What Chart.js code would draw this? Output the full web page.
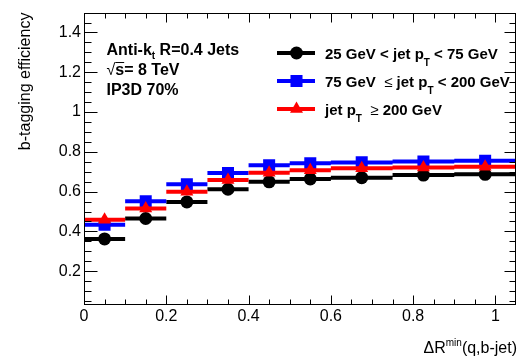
<!DOCTYPE html>
<html>
<head>
<meta charset="utf-8">
<script src="https://cdn.jsdelivr.net/npm/chart.js@4/dist/chart.umd.min.js"></script>
<style>
  html, body { margin: 0; padding: 0; background: #fff; }
  canvas { display: block; }
</style>
</head>
<body>
<canvas id="my-chart" width="521" height="361"></canvas>
<script>
'use strict';

// ******* DATA *********
let binEdges = [0, 0.1, 0.2, 0.3, 0.4, 0.5, 0.6, 0.75, 0.9, 1.05];
let effLowPt = [0.362, 0.465, 0.548, 0.612, 0.649, 0.664, 0.670, 0.683, 0.687];
let effMidPt = [0.433, 0.552, 0.637, 0.693, 0.733, 0.743, 0.747, 0.751, 0.755];
let effHighPt = [0.458, 0.515, 0.599, 0.659, 0.695, 0.708, 0.717, 0.721, 0.725];

let seriesNames = ['25 GeV < jet p_{T} < 75 GeV', '75 GeV ≤ jet p_{T} < 200 GeV', 'jet p_{T} ≥ 200 GeV'];
let xTicks = [0, 0.2, 0.4, 0.6, 0.8, 1];
let yTicks = [0.2, 0.4, 0.6, 0.8, 1, 1.2, 1.4];
let infoLines = ['Anti-k_{t} R=0.4 Jets', '#sqrt{s}= 8 TeV', 'IP3D 70%'];
let xTitle = 'ΔR^{min}(q,b-jet)';
let yTitle = 'b-tagging efficiency';

// ******* STYLE *********
let FONT = '"Liberation Sans", Arial, Helvetica, sans-serif';
let seriesColors = ['#000000', '#0000ff', '#ff0000'];
let seriesMarkers = ['circle', 'rect', 'triangle'];
let markerRadius = [6.5, 8.5, 7.5];

let ctx = document.getElementById('my-chart');

// ****** HELPERS ******
// every bin becomes a flat step with the marker at its centre, null breaks the line
function buildSteps(values) {
  let pts = [];
  for (let i = 0; i < values.length; i++) {
    let lo = binEdges[i];
    let hi = binEdges[i + 1];
    pts.push({ x: lo, y: values[i] }, { x: (lo + hi) / 2, y: values[i] }, { x: hi, y: values[i] }, { x: hi, y: null });
  }
  return pts;
}

// tiny root-latex-ish parser: _{..} subscript, ^{..} superscript, #sqrt{..}
function parseRich(str) {
  let runs = [];
  let buf = '';
  let i = 0;
  function flush() {
    if (buf) { runs.push({ t: buf, kind: 'norm' }); buf = ''; }
  }
  while (i < str.length) {
    let ch = str[i];
    if ((ch === '_' || ch === '^') && str[i + 1] === '{') {
      flush();
      let end = str.indexOf('}', i);
      runs.push({ t: str.slice(i + 2, end), kind: ch === '_' ? 'sub' : 'sup' });
      i = end + 1;
    } else if (str.startsWith('#sqrt{', i)) {
      flush();
      let end = str.indexOf('}', i);
      runs.push({ t: '√', kind: 'sym' });
      runs.push({ t: str.slice(i + 6, end), kind: 'norm', over: true });
      i = end + 1;
    } else if (ch === '≤' || ch === '≥') {
      flush();
      runs.push({ t: ' ' + ch, kind: 'sym' });
      i++;
    } else {
      buf += ch;
      i++;
    }
  }
  flush();
  return runs;
}

function drawRich(c, str, x, y, opt) {
  let runs = parseRich(str);
  let size = opt.size;
  let weight = opt.bold ? 'bold ' : '';
  let small = Math.round(size * 0.65);
  function fontFor(r) {
    if (r.kind === 'sub' || r.kind === 'sup') return weight + small + 'px ' + FONT;
    if (r.kind === 'sym') return size + 'px ' + FONT;
    return weight + size + 'px ' + FONT;
  }
  let total = 0;
  runs.forEach(r => {
    c.font = fontFor(r);
    r.w = c.measureText(r.t).width;
    total += r.w;
  });
  let cx = opt.align === 'right' ? x - total : x;
  c.textAlign = 'left';
  c.textBaseline = 'alphabetic';
  runs.forEach(r => {
    c.font = fontFor(r);
    let dy = 0;
    if (r.kind === 'sub') dy = opt.subDy || 4;
    if (r.kind === 'sup') dy = opt.supDy || -7;
    c.fillText(r.t, cx, y + dy);
    if (r.over) {
      c.beginPath();
      c.lineWidth = 1;
      c.moveTo(cx, y - size * 0.78);
      c.lineTo(cx + r.w, y - size * 0.78);
      c.stroke();
    }
    cx += r.w;
  });
}

function drawMarker(c, style, r, x, y) {
  c.beginPath();
  if (style === 'circle') {
    c.arc(x, y, r, 0, Math.PI * 2);
  } else if (style === 'rect') {
    let s = r * Math.SQRT1_2;
    c.rect(x - s, y - s, 2 * s, 2 * s);
  } else {
    c.moveTo(x, y - r);
    c.lineTo(x + r * 0.866, y + r * 0.5);
    c.lineTo(x - r * 0.866, y + r * 0.5);
    c.closePath();
  }
  c.fill();
}

// ****** PLUGINS ******
let frameTicks = {
  id: 'frameTicks',
  afterDraw(chart) {
    let c = chart.ctx;
    let a = chart.chartArea;
    let xs = chart.scales.x;
    let ys = chart.scales.y;
    let L = Math.round(a.left) + 0.5;
    let R = Math.round(a.right) - 0.5;
    let T = Math.round(a.top) + 0.5;
    let B = Math.round(a.bottom) - 0.5;
    c.save();
    c.strokeStyle = '#000';
    c.lineWidth = 1;
    c.strokeRect(L, T, R - L, B - T);
    c.beginPath();
    for (let i = 1; i * 0.05 < xs.max - 1e-9; i++) {
      let px = Math.round(xs.getPixelForValue(i * 0.05)) + 0.5;
      let len = i % 4 === 0 ? 9 : 5;
      c.moveTo(px, B); c.lineTo(px, B - len);
      c.moveTo(px, T); c.lineTo(px, T + len);
    }
    for (let i = 1; i * 0.05 < ys.max - 1e-9; i++) {
      let py = Math.round(ys.getPixelForValue(i * 0.05)) + 0.5;
      let major = i % 4 === 0;
      c.moveTo(L, py); c.lineTo(L + (major ? 13 : 7), py);
      c.moveTo(R, py); c.lineTo(R - (major ? 11 : 6), py);
    }
    c.stroke();
    c.restore();
  }
};

let textLayer = {
  id: 'textLayer',
  afterDraw(chart) {
    let c = chart.ctx;
    let a = chart.chartArea;
    c.save();
    c.fillStyle = '#000';
    c.strokeStyle = '#000';

    // info block
    for (let i = 0; i < infoLines.length; i++) {
      drawRich(c, infoLines[i], 106.5, 55 + i * 20, { size: 16, bold: true, subDy: 4 });
    }

    // legend
    for (let i = 0; i < seriesNames.length; i++) {
      let ly = 53 + i * 28;
      c.strokeStyle = seriesColors[i];
      c.fillStyle = seriesColors[i];
      c.lineWidth = 4;
      c.beginPath();
      c.moveTo(277, ly);
      c.lineTo(315, ly);
      c.stroke();
      drawMarker(c, seriesMarkers[i], markerRadius[i], 296.5, ly);
      c.fillStyle = '#000';
      c.strokeStyle = '#000';
      drawRich(c, seriesNames[i], 325, ly + 6, { size: 15, bold: true, subDy: 7 });
    }

    // axis titles
    drawRich(c, xTitle, a.right + 1, 353, { size: 16, bold: false, align: 'right', supDy: -7 });
    c.save();
    c.translate(30, a.top);
    c.rotate(-Math.PI / 2);
    c.font = '16px ' + FONT;
    c.textAlign = 'right';
    c.textBaseline = 'alphabetic';
    c.fillText(yTitle, 0, 0);
    c.restore();

    c.restore();
  }
};

// ****** CHART ******
let allSeries = [effLowPt, effMidPt, effHighPt];
let datasets = allSeries.map((vals, i) => ({
  label: seriesNames[i],
  data: buildSteps(vals),
  showLine: true,
  spanGaps: false,
  borderColor: seriesColors[i],
  borderWidth: 4,
  backgroundColor: seriesColors[i],
  pointBackgroundColor: seriesColors[i],
  pointBorderColor: seriesColors[i],
  pointBorderWidth: 0,
  pointStyle: seriesMarkers[i],
  pointRadius: (c) => (c.dataIndex % 4 === 1 ? markerRadius[i] : 0),
  tension: 0,
  order: 3 - i
}));

let tickFont = { family: FONT, size: 16 };

let chartObj = {
  type: 'scatter',
  data: { datasets: datasets },
  options: {
    responsive: false,
    animation: false,
    devicePixelRatio: 1,
    layout: { padding: { top: 10, right: 5, left: 0, bottom: 0 } },
    plugins: {
      legend: { display: false },
      tooltip: { enabled: false }
    },
    scales: {
      x: {
        type: 'linear',
        min: 0,
        max: 1.05,
        afterBuildTicks: (s) => { s.ticks = xTicks.map(v => ({ value: v })); },
        afterFit: (s) => { s.height = 56; },
        grid: { display: false, drawTicks: false },
        border: { display: false },
        ticks: { color: '#000', font: tickFont, padding: 2, maxRotation: 0, autoSkip: false, callback: (v) => String(v) }
      },
      y: {
        type: 'linear',
        min: 0.03,
        max: 1.5,
        afterBuildTicks: (s) => { s.ticks = yTicks.map(v => ({ value: v })); },
        afterFit: (s) => { s.width = 84; },
        grid: { display: false, drawTicks: false },
        border: { display: false },
        ticks: { color: '#000', font: tickFont, padding: 3, autoSkip: false, callback: (v) => String(v) }
      }
    }
  },
  plugins: [frameTicks, textLayer]
};

new Chart(ctx, chartObj); //eslint-disable-line
</script>
</body>
</html>
